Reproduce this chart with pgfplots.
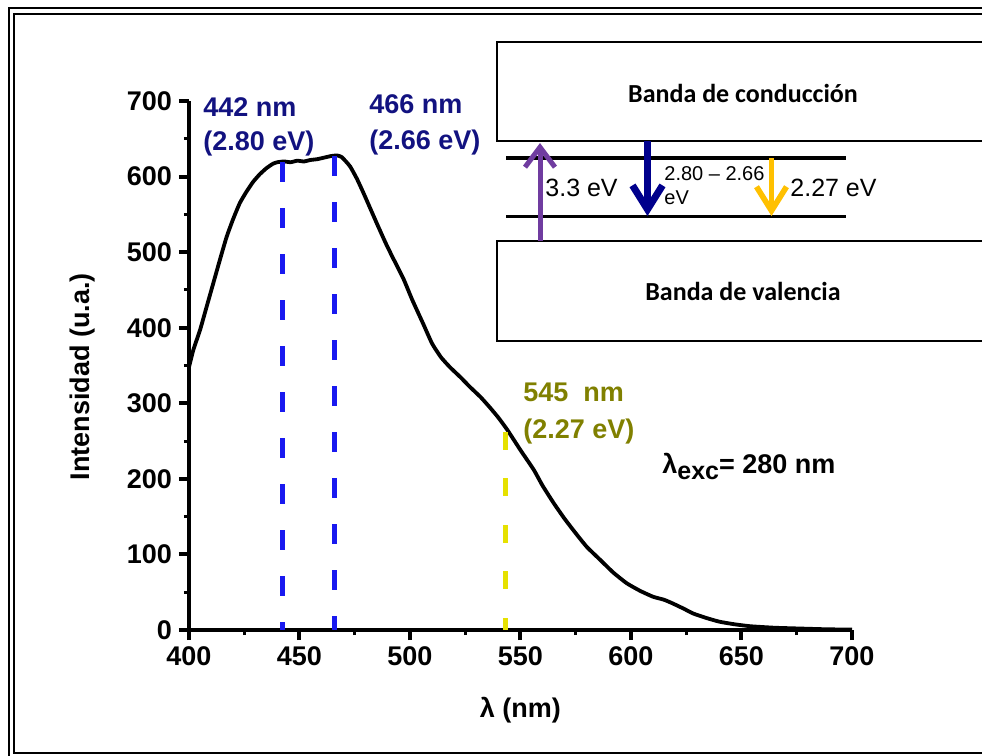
\documentclass[border=0pt]{standalone}
\usepackage{fontspec}
\setmainfont{Liberation Sans}
\newfontfamily\carlito{Carlito}
\usepackage{pgfplots}
\pgfplotsset{compat=1.18}
\usetikzlibrary{arrows.meta}
\definecolor{dashblue}{RGB}{25,25,240}
\definecolor{dashyellow}{RGB}{230,225,0}
\definecolor{navytxt}{RGB}{18,18,128}
\definecolor{olivetxt}{RGB}{128,128,0}
\definecolor{arrpurple}{RGB}{112,60,160}
\definecolor{arrnavy}{RGB}{0,0,140}
\definecolor{arrgold}{RGB}{255,192,0}
\begin{document}
\begin{tikzpicture}
\useasboundingbox (0pt,0pt) rectangle (491pt,-378pt);
\begin{axis}[
  at={(94.5pt,-315pt)}, anchor=south west,
  scale only axis, width=331.5pt, height=264.5pt,
  xmin=400, xmax=700, ymin=0, ymax=700,
  axis x line*=bottom, axis y line*=left,
  x axis line style={-, line width=2.2pt},
  y axis line style={-, line width=2.2pt},
  xtick={400,450,...,700}, ytick={0,100,...,700},
  minor x tick num=1, minor y tick num=1,
  tick align=outside,
  major tick length=5pt, minor tick length=2.5pt,
  every major tick/.append style={line width=2pt, black},
  every minor tick/.append style={line width=1.5pt, black},
  /pgf/number format/assume math mode=true,
  tick label style={font=\bfseries\fontsize{13.5}{16}\selectfont},
  xlabel={λ (nm)}, ylabel={Intensidad (u.a.)},
  every axis x label/.style={at={(axis description cs:0.5,0)}, yshift=-40pt, anchor=center, font=\bfseries\fontsize{13.5}{16}\selectfont},
  every axis y label/.style={at={(axis description cs:0,0.479)}, xshift=-53pt, rotate=90, anchor=center, font=\bfseries\fontsize{13.5}{16}\selectfont},
  clip=false,
]
\addplot[black, line width=1.9pt, smooth, tension=0.3] coordinates {
(400,348) (402,371) (405,397) (408,428) (411,459) (414,490) (417,520) (420,544) (423,565) (426,580) (429,593) (432,603) (435,611) (438,617) (440,619) (443,620) (446,619) (449,621) (452,620) (455,622) (458,623) (461,625) (464,627) (467,628) (469,626) (471,620) (473,613) (476,597) (479,578) (482,558) (485,538) (489,512) (492,494) (497,465) (501,437) (506,405) (510,379) (514,361) (518,348) (523,334) (527,322) (532,308) (536,295) (540,281) (544,265) (550,238) (556,212) (560,191) (565,168) (570,147) (575,128) (580,110) (586,93) (592,76) (598,62) (604,52) (610,44) (615,40) (619,35) (624,28) (628,22) (634,16) (640,11) (647,7.5) (654,5) (665,3) (676,2) (688,1) (700,0.5)
};
\addplot[dashblue, line width=2.5pt, dash pattern=on 9.75pt off 13.25pt] coordinates {(442.5,619) (442.5,0)};
\addplot[dashblue, line width=2.5pt, dash pattern=on 9.75pt off 13.25pt] coordinates {(466,627) (466,0)};
\addplot[dashyellow, line width=2.5pt, dash pattern=on 9pt off 14.3pt] coordinates {(543.4,262.5) (543.4,0)};
\end{axis}
\begin{scope}[x=0.5pt,y=-0.5pt]
% frame
\draw[line width=1pt] (9,8) rectangle (1000,775);
\draw[line width=1.1pt] (14,14) rectangle (992,753);
% annotations
\begin{scope}[every node/.style={inner sep=0pt, anchor=base west, font=\bfseries\fontsize{13.5}{16}\selectfont}]
\node[text=navytxt] at (203,116) {442 nm};
\node[text=navytxt] at (203,150) {(2.80 eV)};
\node[text=navytxt] at (369,113) {466 nm};
\node[text=navytxt] at (369,149) {(2.66 eV)};
\node[text=olivetxt] at (523,401.5) {545\ \ nm};
\node[text=olivetxt] at (523,438) {(2.27 eV)};
\node[text=black] at (662,473) {λ\raisebox{-0.45ex}{\fontsize{12.5}{14}\selectfont exc}= 280 nm};
\end{scope}
% inset
\draw[line width=1pt, fill=white] (497,42) rectangle (1000,141);
\draw[line width=1pt, fill=white] (497,241) rectangle (1000,341);
\node[font=\carlito\bfseries\fontsize{13}{15}\selectfont] at (743,93) {Banda de conducción};
\node[font=\carlito\bfseries\fontsize{13}{15}\selectfont] at (743,291) {Banda de valencia};
\draw[line width=1.6pt] (506,158) -- (846,158);
\draw[line width=1.6pt] (506,216.5) -- (846,216.5);
\draw[arrpurple, line width=2.5pt, -{Straight Barb[length=10pt,width=15pt,line width=2.5pt]}] (540,241) -- (540,143);
\draw[arrnavy, line width=3.5pt, -{Straight Barb[length=12pt,width=15pt,line width=3.5pt]}] (647.5,141) -- (647.5,216);
\draw[arrgold, line width=2.8pt, -{Straight Barb[length=12pt,width=15pt,line width=2.8pt]}] (771.5,158) -- (771.5,216);
\begin{scope}[every node/.style={inner sep=0pt, anchor=base west}]
\node[font=\fontsize{12.5}{14}\selectfont] at (545,196) {3.3 eV};
\node[font=\fontsize{10}{12}\selectfont] at (664,180) {2.80 – 2.66};
\node[font=\fontsize{10}{12}\selectfont] at (664,204) {eV};
\node[font=\fontsize{12.5}{14}\selectfont] at (790,196) {2.27 eV};
\end{scope}
\end{scope}
\end{tikzpicture}
\end{document}
